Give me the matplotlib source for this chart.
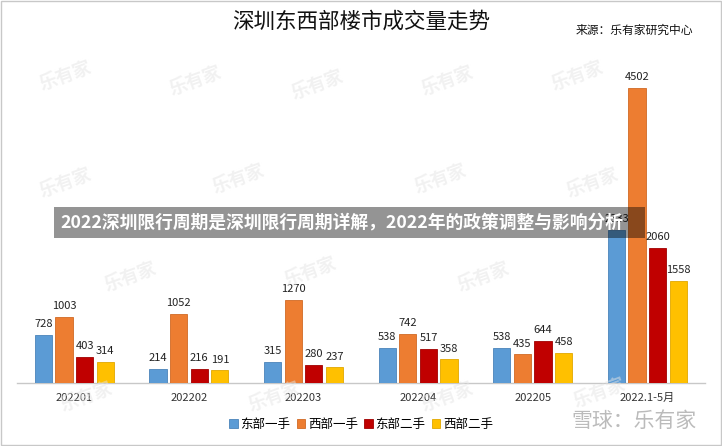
import matplotlib.pyplot as plt
import numpy as np

plt.rcParams['font.family'] = ['Noto Sans CJK SC', 'DejaVu Sans']

# 数据
categories = ['202201', '202202', '202203', '202204', '202205', '2022.1-5月']
series_names = ['东部一手', '西部一手', '东部二手', '西部二手']
east_new = [728, 214, 315, 538, 538, 2333]
west_new = [1003, 1052, 1270, 742, 435, 4502]
east_used = [403, 216, 280, 517, 644, 2060]
west_used = [314, 191, 237, 358, 458, 1558]
colors = ['#5B9BD5', '#ED7D31', '#C00000', '#FFC000']
edges = ['#4A84BA', '#D06A25', '#A00000', '#E0A800']

fig = plt.figure(figsize=(7.22, 4.46), dpi=100)
ax = fig.add_axes([0.0235, 0.1413, 0.9525, 0.7357])

x = np.arange(len(categories))
width = 0.15
step = 0.18
all_series = [east_new, west_new, east_used, west_used]
for i, vals in enumerate(all_series):
    pos = x + (i - 1.5) * step
    ax.bar(pos, vals, width, color=colors[i], edgecolor=edges[i], linewidth=0.6,
           label=series_names[i], zorder=3)
    for p, v in zip(pos, vals):
        ax.text(p, v + 90, str(v), ha='center', va='bottom', fontsize=8,
                color='#222222', zorder=4)

ax.set_xlim(-0.5, len(categories) - 0.5)
ax.set_ylim(0, 5000)
ax.set_yticks([])
ax.set_xticks(x)
ax.set_xticklabels(categories, fontsize=8, color='#333333')
ax.tick_params(axis='x', length=0, pad=7)
for s in ['top', 'right', 'left']:
    ax.spines[s].set_visible(False)
ax.spines['bottom'].set_color('#C8C8C8')
ax.spines['bottom'].set_linewidth(1)

# 标题与来源
fig.text(0.5, 0.952, '深圳东西部楼市成交量走势', ha='center', va='center',
         fontsize=15.5, fontweight='medium', color='#111111')
fig.text(0.96, 0.932, '来源：乐有家研究中心', ha='right', va='center',
         fontsize=8.5, color='#111111')

# 图例
leg = fig.legend(loc='center', bbox_to_anchor=(0.5, 0.048), ncol=4, frameon=False,
                 fontsize=9, handlelength=0.7, handleheight=0.7, handletextpad=0.2,
                 columnspacing=0.5)

# 水印
wm_pos = [(0.09, 0.83), (0.27, 0.82), (0.44, 0.81), (0.62, 0.82), (0.8, 0.83),
          (0.09, 0.59), (0.33, 0.60), (0.61, 0.60), (0.82, 0.59),
          (0.18, 0.38), (0.43, 0.39), (0.67, 0.38),
          (0.12, 0.11), (0.38, 0.11), (0.62, 0.11), (0.83, 0.12)]
for wx, wy in wm_pos:
    fig.text(wx, wy, '乐有家', fontsize=13, fontweight='bold', color='#E4E4E4',
             rotation=20, ha='center', va='center', alpha=0.5, zorder=0)

fig.text(0.965, 0.055, '雪球：乐有家', ha='right', va='center', fontsize=15,
         color='#BBBBBB')

# 横幅
fig.patches.append(plt.Rectangle((0.0748, 0.4664), 0.8186, 0.0695, transform=fig.transFigure,
                                 facecolor='black', alpha=0.42, edgecolor='none', zorder=9))
fig.text(0.083, 0.501, '2022深圳限行周期是深圳限行周期详解，2022年的政策调整与影响分析',
         ha='left', va='center', fontsize=12.8, fontweight='bold', color='white',
         zorder=10)

# 外框
fig.patches.append(plt.Rectangle((0.001, 0.002), 0.997, 0.996, transform=fig.transFigure,
                                 fill=False, edgecolor='#C8C8C8', linewidth=1))

fig.savefig('out.png', dpi=100)
